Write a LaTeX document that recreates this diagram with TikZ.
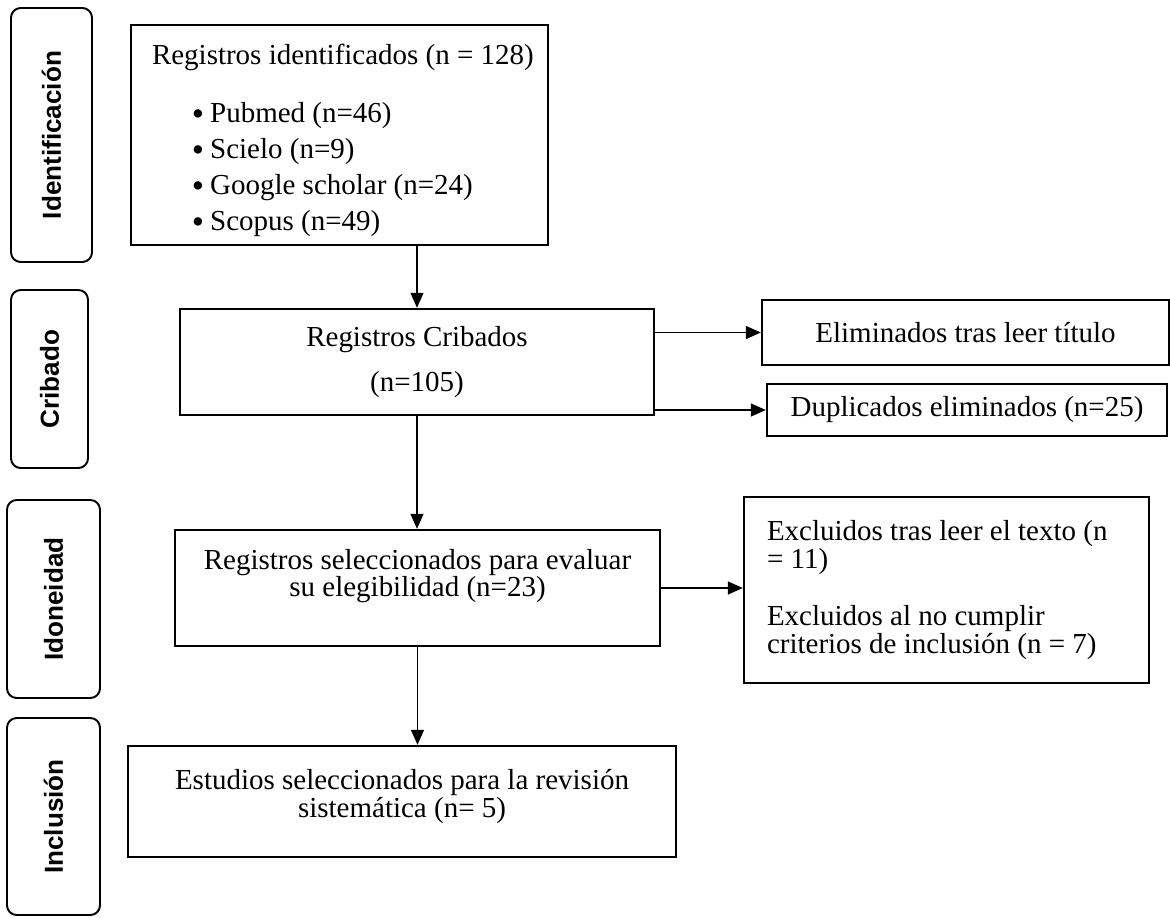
\documentclass[tikz,border=0pt]{standalone}
\usepackage{fontspec}
\setmainfont{Liberation Serif}
\setsansfont{Liberation Sans}
\usetikzlibrary{arrows.meta}
\newdimen\pxu
\pxu=0.414pt
\newcommand\listdot{\hspace*{16.5pt}\raisebox{-1.1pt}{\fontsize{14.5}{11.4}\selectfont\textbullet}\hspace{2.5pt}}
\begin{document}
\begin{tikzpicture}[x=0.414pt,y=-0.414pt,
    stage/.style={draw,line width=0.8pt,rounded corners=4pt,rotate=90,inner sep=0pt,
      font=\fontsize{10.8}{13}\selectfont\sffamily\bfseries},
    box/.style={draw,line width=1pt,inner sep=0pt,align=flush center,
      font=\fontsize{12}{11.4}\selectfont}]
      \useasboundingbox (0,0) rectangle (1170,917);
      \draw
        (51.5,135) node[stage,minimum width=254*\pxu,minimum height=81*\pxu] (identif){Identificación}
        (49.5,379) node[stage,minimum width=178*\pxu,minimum height=77*\pxu] (cribado){Cribado}
        (53.5,599) node[stage,minimum width=198*\pxu,minimum height=93*\pxu] (idoneidad){Idoneidad}
        (53.5,816.5) node[stage,minimum width=197*\pxu,minimum height=93*\pxu] (inclusion){Inclusión};
      \draw
        (339.5,135) node[box,align=flush left,text width=375*\pxu,minimum width=417*\pxu,minimum height=220*\pxu] (reg)
          {\mbox{\rule{0pt}{13pt}Registros identificados (n = 128)}\\[12.6pt]
           \listdot Pubmed (n=46)\\[3.5pt]
           \listdot Scielo (n=9)\\[3.5pt]
           \listdot Google scholar (n=24)\\[3.5pt]
           \listdot Scopus (n=49)}
        (417,362) node[box,minimum width=474*\pxu,minimum height=106*\pxu] (crib)
          {Registros Cribados\\[7.2pt] (n=105)}
        (965.5,332.5) node[box,minimum width=407*\pxu,minimum height=65*\pxu] (elim)
          {Eliminados tras leer título}
        (967,410) node[box,minimum width=400*\pxu,minimum height=52*\pxu] (dup)
          {Duplicados eliminados (n=25)}
        (417.5,588) node[box,minimum width=485*\pxu,minimum height=116*\pxu] (sel)
          {Registros seleccionados para evaluar\\ su elegibilidad (n=23)\\[1pt]\mbox{}}
        (946.5,590) node[box,align=flush left,text width=359*\pxu,minimum width=405*\pxu,minimum height=186*\pxu] (excl)
          {Excluidos tras leer el texto (n\\ = 11)\\[12.2pt]
           Excluidos al no cumplir\\ criterios de inclusión (n = 7)}
        (402,801.5) node[box,minimum width=548*\pxu,minimum height=111*\pxu] (incl)
          {Estudios seleccionados para la revisión\\ sistemática (n= 5)\\[-4.9pt]\mbox{}};
      \begin{scope}[-{Triangle[length=6.2pt,width=5.4pt]},line width=0.5pt]
        \draw (crib.north |- reg.south) to (crib.north);
        \draw (crib.east |- elim) to (elim.west);
        \draw (crib.east |- dup) to (dup.west);
        \draw (crib.south) to (crib.south |- sel.north);
        \draw (sel.east) to (sel.east -| excl.west);
        \draw (sel.south) to (sel.south |- incl.north);
      \end{scope}
    \end{tikzpicture}
\end{document}
